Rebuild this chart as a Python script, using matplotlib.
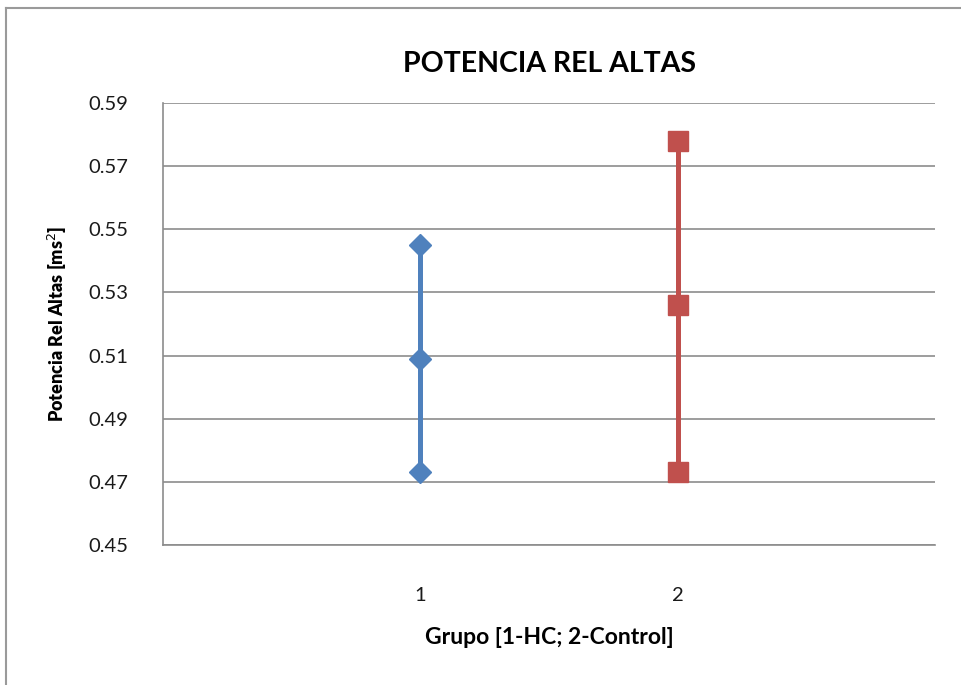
import numpy as np
import matplotlib.pyplot as plt
from matplotlib.lines import Line2D

# data
grupos = [1, 2]
hc_vals = [0.473, 0.509, 0.545]       # grupo 1 (HC): min, mean, max
control_vals = [0.473, 0.526, 0.578]  # grupo 2 (Control)
y_ticks = [0.45, 0.47, 0.49, 0.51, 0.53, 0.55, 0.57, 0.59]

plt.rcParams['font.family'] = ['Lato', 'DejaVu Sans']

fig = plt.figure(figsize=(9.61, 6.85), dpi=100)
ax = fig.add_axes([0.1696, 0.2044, 0.8034, 0.6452])

blue = '#4F81BD'
red = '#C0504D'

ax.plot([grupos[0]] * len(hc_vals), hc_vals, color=blue, lw=3.6,
        marker='D', markersize=11, markeredgecolor=blue, zorder=3)
ax.plot([grupos[1]] * len(control_vals), control_vals, color=red, lw=3.6,
        marker='s', markersize=14, markeredgecolor=red, zorder=3)

ax.set_xlim(0, 3)
ax.set_ylim(0.45, 0.59)
ax.set_yticks(y_ticks)
ax.set_yticklabels(['%.2f' % v for v in y_ticks])
ax.set_xticks(grupos)
ax.set_xticklabels([str(g) for g in grupos])
ax.tick_params(axis='both', length=0, labelsize=14.5, colors='#1a1a1a')
ax.tick_params(axis='y', pad=25)
ax.tick_params(axis='x', pad=30)

ax.grid(axis='y', color='#8c8c8c', lw=1.2)
ax.set_axisbelow(True)
for s in ['top', 'right']:
    ax.spines[s].set_visible(False)
for s in ['left', 'bottom']:
    ax.spines[s].set_color('#8c8c8c')
    ax.spines[s].set_linewidth(1.2)

ax.set_title('POTENCIA REL ALTAS', fontsize=20.5, fontweight='bold', pad=22)
ax.set_ylabel('Potencia Rel Altas [ms$^{2}$]', fontsize=13, fontweight='heavy', labelpad=14)
ax.set_xlabel('Grupo [1-HC; 2-Control]', fontsize=16.5, fontweight='bold', labelpad=17)

# chart border (Excel chart area)
fig.add_artist(Line2D([0.006, 0.006], [0, 0.988], color='#9a9a9a', lw=1.5))
fig.add_artist(Line2D([0.006, 1], [0.988, 0.988], color='#9a9a9a', lw=1.5))

fig.savefig('out.png', dpi=100)
